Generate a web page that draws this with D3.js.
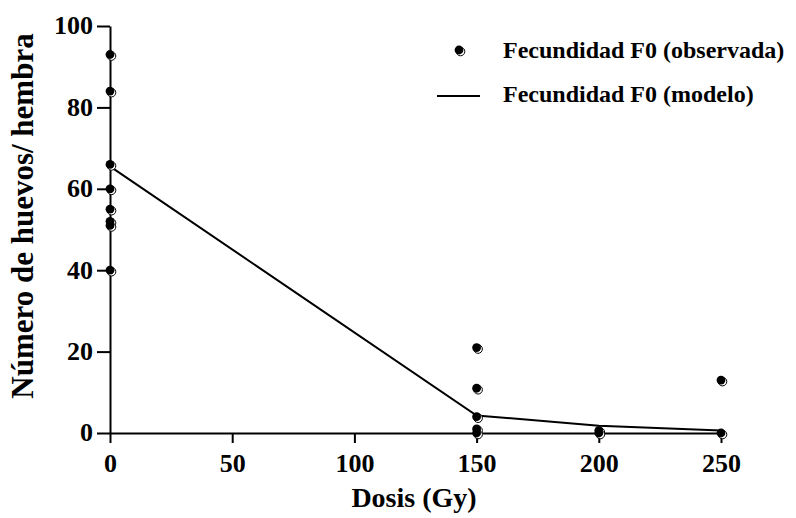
<!DOCTYPE html>
<html>
<head>
<meta charset="utf-8">
<script src="https://cdn.jsdelivr.net/npm/d3@7"></script>
<style>
  body { margin: 0; background: #fff; }
  svg text { font-family: "Liberation Serif", "Times New Roman", serif; font-weight: bold; fill: #000; }
</style>
</head>
<body>
<svg id="chart" width="796" height="518"></svg>
<script>
// datos observados (dosis, huevos/hembra)
const obsDose = [0, 0, 0, 0, 0, 0, 0, 0, 150, 150, 150, 150, 150, 200, 200, 250, 250];
const obsEggs = [93, 84, 66, 60, 55, 52, 51, 40, 21, 11, 4, 1, 0, 0.6, 0, 13, 0];

// modelo
const modelDose = [0, 150, 200, 250];
const modelEggs = [65.5, 4.3, 1.8, 0.6];

const xTicks = [0, 50, 100, 150, 200, 250];
const yTicks = [0, 20, 40, 60, 80, 100];

const svg = d3.select("#chart");

const x = d3.scaleLinear().domain([0, 250]).range([110, 721]);
const y = d3.scaleLinear().domain([0, 100]).range([433, 26]);

// eje Y
const gy = svg.append("g")
  .attr("transform", `translate(${x(0)},0)`)
  .call(d3.axisLeft(y).tickValues(yTicks).tickSize(13).tickSizeOuter(0).tickPadding(4));
gy.select(".domain").attr("stroke-width", 2);
gy.selectAll(".tick line").attr("stroke-width", 2);
gy.selectAll(".tick text").attr("font-size", 26).attr("dy", "0.3em");

// eje X
const gx = svg.append("g")
  .attr("transform", `translate(0,${y(0)})`)
  .call(d3.axisBottom(x).tickValues(xTicks).tickSize(10).tickSizeOuter(0).tickPadding(11));
gx.select(".domain").attr("stroke-width", 2);
gx.selectAll(".tick line").attr("stroke-width", 2);
gx.selectAll(".tick text").attr("font-size", 26);

// títulos
svg.append("text")
  .attr("x", 414).attr("y", 507)
  .attr("text-anchor", "middle")
  .attr("font-size", 28)
  .text("Dosis (Gy)");

svg.append("text")
  .attr("transform", `translate(33,216) rotate(-90)`)
  .attr("text-anchor", "middle")
  .attr("font-size", 31)
  .text("Número de huevos/ hembra");

// línea del modelo
const modelPts = modelDose.map((d, i) => [d, modelEggs[i]]);
svg.append("path")
  .datum(modelPts)
  .attr("fill", "none")
  .attr("stroke", "#000")
  .attr("stroke-width", 2)
  .attr("d", d3.line().x(d => x(d[0])).y(d => y(d[1])));

// puntos observados
function marker(g, cx, cy) {
  g.append("circle")
    .attr("cx", cx + 1.5).attr("cy", cy + 1.5).attr("r", 4.3)
    .attr("fill", "#fff").attr("stroke", "#000").attr("stroke-width", 1);
  g.append("circle")
    .attr("cx", cx).attr("cy", cy).attr("r", 4.4)
    .attr("fill", "#000");
}

const pts = svg.append("g");
obsDose.forEach((d, i) => marker(pts, x(d), y(obsEggs[i])));

// leyenda
const leg = svg.append("g");
marker(leg, 459, 50);
leg.append("text").attr("x", 503).attr("y", 58).attr("font-size", 24)
  .text("Fecundidad F0 (observada)");
leg.append("line")
  .attr("x1", 437).attr("x2", 480).attr("y1", 96).attr("y2", 96)
  .attr("stroke", "#000").attr("stroke-width", 2);
leg.append("text").attr("x", 503).attr("y", 102).attr("font-size", 24)
  .text("Fecundidad F0 (modelo)");
</script>
</body>
</html>
